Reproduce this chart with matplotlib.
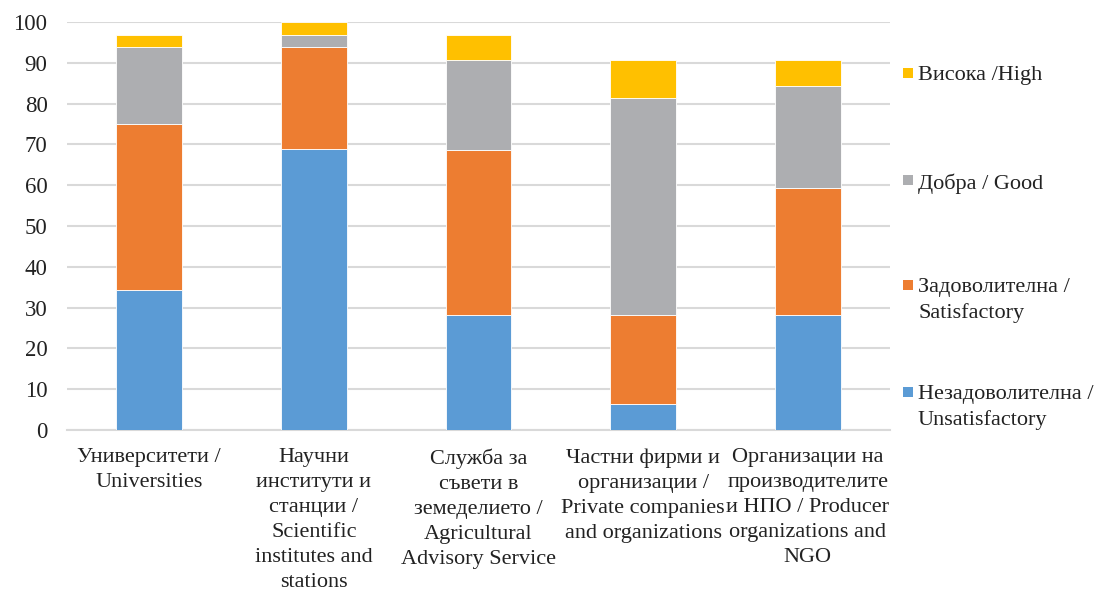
import numpy as np
import matplotlib.pyplot as plt
from matplotlib.patches import Rectangle

plt.rcParams['font.family'] = ['Liberation Serif', 'DejaVu Serif']

categories = [
    'Университети /\nUniversities',
    'Научни\nинститути и\nстанции /\nScientific\ninstitutes and\nstations',
    'Служба за\nсъвети в\nземеделието /\nAgricultural\nAdvisory Service',
    'Частни фирми и\nорганизации /\nPrivate companies\nand organizations',
    'Организации на\nпроизводителите\nи НПО / Producer\norganizations and\nNGO',
]
unsatisfactory = [34.4, 68.8, 28.1, 6.3, 28.1]
satisfactory = [40.6, 25.0, 40.6, 21.9, 31.3]
good = [18.8, 3.1, 21.9, 53.1, 25.0]
high = [3.1, 3.1, 6.3, 9.4, 6.3]

series = [
    ('Незадоволителна /\nUnsatisfactory', unsatisfactory, '#5B9BD5'),
    ('Задоволителна /\nSatisfactory', satisfactory, '#ED7D31'),
    ('Добра / Good', good, '#ADAEB1'),
    ('Висока /High', high, '#FFC000'),
]

W, H = 1096, 592
fig = plt.figure(figsize=(W / 100, H / 100), dpi=100)
ax = fig.add_axes([0.0611, 0.2736, 0.7509, 0.6892])

x = np.arange(len(categories))
bottom = np.zeros(len(categories))
for label, vals, color in series:
    ax.bar(x, vals, width=0.4, bottom=bottom, color=color,
           edgecolor='white', linewidth=0.6, label=label, zorder=3)
    bottom += np.array(vals)

ax.set_xlim(-0.5, len(categories) - 0.5)
ax.set_ylim(0, 100)
ax.set_yticks(np.arange(0, 101, 10))
ax.yaxis.grid(True, color='#D9D9D9', linewidth=1.5, zorder=0)
ax.set_axisbelow(True)
for s in ['top', 'right', 'left']:
    ax.spines[s].set_visible(False)
ax.spines['bottom'].set_color('#D9D9D9')
ax.spines['bottom'].set_linewidth(1.5)
ax.tick_params(axis='both', length=0, labelsize=16.5, colors='#222222')
ax.tick_params(axis='y', pad=14)
ax.tick_params(axis='x', pad=13)
ax.set_xticks(x)
ax.set_xticklabels(categories, fontsize=16, linespacing=1.43, va='top')

# legend drawn by hand: Excel spaces entries evenly by first line
legend_rows = [73, 180, 285, 392]  # first-line centres, px from top
for (label, vals, color), py in zip(series[::-1], legend_rows):
    fig.add_artist(Rectangle((903 / W, 1 - (py + 5) / H), 10 / W, 10 / H,
                             transform=fig.transFigure, color=color,
                             linewidth=0))
    fig.text(918 / W, 1 - (py - 7) / H, label, fontsize=16, va='top',
             ha='left', color='#222222', linespacing=1.4)

fig.savefig('out.png', dpi=100)
